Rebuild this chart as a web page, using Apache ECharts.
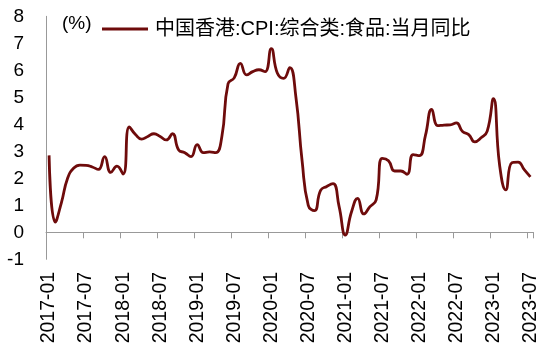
<!DOCTYPE html>
<html>
<head>
<meta charset="utf-8">
<script src="https://cdn.jsdelivr.net/npm/echarts@6/dist/echarts.min.js"></script>
<style>html,body{margin:0;padding:0;background:#fff;}#c{width:550px;height:353px;}</style>
</head>
<body>
<div id="c"></div>
<script>
// Months 2017-01 .. 2023-07
var startYear = 2017, startMonth = 1, monthCount = 79;
var categories = [];
for (var i = 0; i < monthCount; i++) {
  var y = startYear + Math.floor((startMonth - 1 + i) / 12);
  var m = (startMonth - 1 + i) % 12 + 1;
  categories.push(y + '-' + (m < 10 ? '0' + m : m));
}
var seriesName = '中国香港:CPI:综合类:食品:当月同比';
var values = [
  2.85, 0.38, 1.1, 2.0, 2.38, 2.49, 2.48, 2.42, 2.33, 2.8, 2.22, 2.45,
  2.16, 3.9, 3.62, 3.45, 3.55, 3.65, 3.55, 3.42, 3.65, 3.05, 2.95, 2.8,
  3.25, 2.95, 2.98, 2.95, 3.55, 5.5, 5.72, 6.26, 5.83, 5.95, 6.02, 5.95,
  6.8, 5.89, 5.7, 6.1, 5.0, 2.65, 1.0, 0.8, 1.55, 1.7, 1.8, 0.95,
  -0.1, 0.75, 1.26, 0.68, 0.95, 1.2, 2.74, 2.65, 2.27, 2.27, 2.15, 2.88,
  2.84, 3.6, 4.55, 3.95, 3.97, 3.98, 4.05, 3.73, 3.62, 3.35, 3.5, 3.75,
  4.95, 2.5, 1.57, 2.58, 2.6, 2.32, 2.05
];
var yMin = -1, yMax = 8, yInterval = 1;
var unitLabel = '(%)';

var FONT = '"Liberation Sans", Arial, "Noto Sans CJK SC", sans-serif';
var chart = echarts.init(document.getElementById('c'), null, {renderer: 'canvas'});
chart.setOption({
  animation: false,
  backgroundColor: '#fff',
  textStyle: {fontFamily: FONT},
  grid: {left: 46, right: 16.5, top: 16.3, bottom: 93.7, containLabel: false, outerBoundsMode: 'none'},
  legend: {
    left: 97, top: 14,
    icon: 'rect', itemWidth: 46, itemHeight: 3, itemGap: 10,
    textStyle: {fontSize: 20, color: '#000', fontFamily: FONT, padding: [0, 0, 0, 2]},
    data: [seriesName]
  },
  graphic: [{
    type: 'text', left: 62, top: 14,
    style: {text: unitLabel, fontSize: 19, fill: '#000', font: '19px ' + FONT}
  }],
  xAxis: {
    type: 'category',
    data: categories,
    boundaryGap: true,
    axisLine: {onZero: true, lineStyle: {color: '#999', width: 1}},
    axisTick: {show: true, interval: 5, length: 6, lineStyle: {color: '#999'}},
    axisLabel: {interval: 5, rotate: 90, margin: 12.5, fontSize: 19.5, color: '#000', fontFamily: FONT},
    splitLine: {show: false}
  },
  yAxis: {
    type: 'value', min: yMin, max: yMax, interval: yInterval,
    axisLine: {show: true, lineStyle: {color: '#999', width: 1}},
    axisTick: {show: false},
    axisLabel: {fontSize: 19, color: '#000', margin: 22, fontFamily: FONT},
    splitLine: {show: false}
  },
  series: [{
    name: seriesName,
    type: 'line',
    data: values,
    smooth: true,
    symbol: 'none',
    lineStyle: {color: '#6E0B0B', width: 2.8},
    itemStyle: {color: '#6E0B0B'}
  }]
});
</script>
</body>
</html>
